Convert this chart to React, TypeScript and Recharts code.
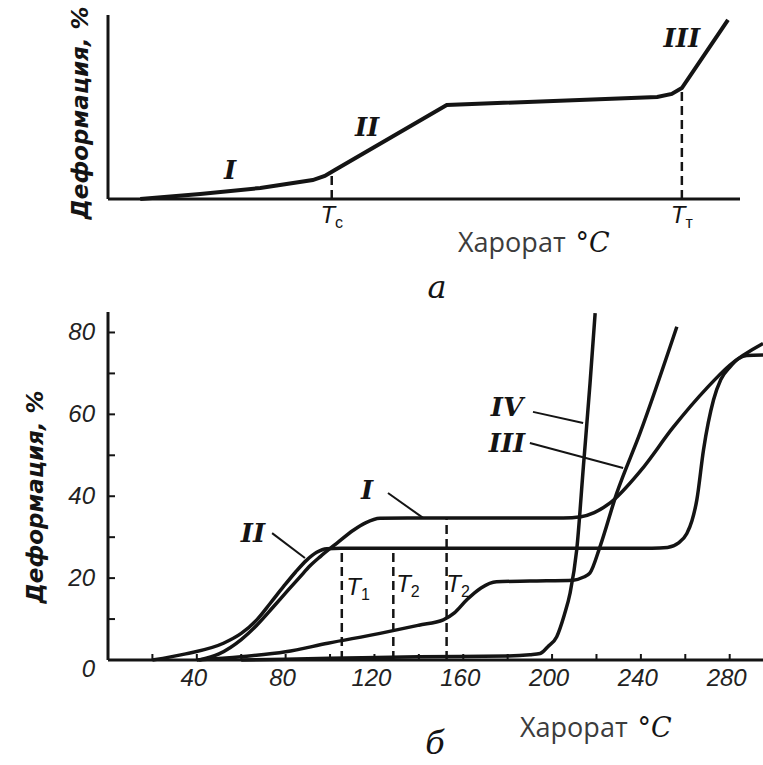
import { LineChart, Line, XAxis, YAxis, ReferenceLine, ReferenceDot, Label } from 'recharts';

const INK = '#141414';

// а — схема термомеханической кривой (условные единицы)
const schemeTemp = [5.1, 14.6, 24.1, 32.4, 34.3, 35.9, 53.6, 86.9, 89.2, 90.8, 98.1];
const schemeDef = [0, 2.7, 6, 10.3, 12.5, 15.8, 51.1, 55.4, 57.1, 60.3, 97.3];
const schemeMarks = [35.4, 90.8];
const schemeMarkTop = [14.8, 60.3];
const schemeMarkSub = ['c', 'т'];
const schemeNames = ['I', 'II', 'III'];
const schemeNameTemp = [19.3, 41, 90.8];
const schemeNameDef = [15.8, 39, 87.5];

// б — кривые I..IV
const temp1 = [41, 50, 60, 67, 74.5, 81, 86.5, 91, 95.5, 103, 110.5, 116, 122.5, 135, 170, 205, 213, 219, 226, 240, 254.5, 270, 280, 295];
const def1 = [0, 1.5, 5, 8.5, 13, 17, 20.3, 23, 25.2, 28.5, 31.7, 33.5, 34.6, 34.7, 34.7, 34.7, 35, 36, 38.3, 46.3, 56.8, 66.6, 72, 77.3];
const temp2 = [20, 35, 52, 60, 67, 73, 79, 84.5, 89.5, 94, 98.5, 105, 150, 200, 245, 252, 257, 260.7, 263, 265.2, 268.2, 272.7, 276, 280.2, 284, 287.7, 295];
const def2 = [0, 1.5, 4.1, 6.5, 9.8, 13.8, 17.9, 21.5, 24.4, 26.3, 27.2, 27.3, 27.3, 27.3, 27.3, 27.5, 28.6, 30.9, 34, 39.1, 51.3, 63.5, 68.5, 71.6, 73.6, 74.4, 74.5];
const temp3 = [40, 60, 80, 99, 122.5, 140, 151, 156, 161.6, 168, 175, 190, 209.6, 214, 217, 221.6, 229.1, 239.6, 256.2];
const def3 = [0, 0.8, 2, 4.1, 6.5, 8.5, 9.8, 11.5, 14.7, 17.6, 19.1, 19.3, 19.5, 20.2, 21.2, 27.7, 40.7, 55.4, 81.4];
const temp4 = [60, 100, 140, 180, 190, 194.6, 198, 202.1, 205.5, 208.1, 211.1, 214.1, 217.1, 219.4];
const def4 = [0, 0.4, 0.8, 1, 1.3, 1.6, 3.2, 5.7, 11, 16.3, 26.9, 47.2, 67.6, 84.7];

const xTicks = [20, 40, 60, 80, 100, 120, 140, 160, 180, 200, 220, 240, 260, 280];
const yTicks = [0, 10, 20, 30, 40, 50, 60, 70, 80];

const tMarks = [105.3, 128.5, 152.5];
const tMarkTop = [27.3, 27.3, 34.6];
const tSubs = ['1', '2', '2'];
const tLabelTemp = [112.6, 135.1, 157.7];
const tLabelDef = [15.9, 16.6, 16.6];

const curveNames = ['I', 'II', 'III', 'IV'];
const nameTemp = [116.7, 65.3, 179.7, 179.7];
const nameDef = [41.5, 31, 53, 61.8];
const leaderFrom = [[126.1, 40.8], [73.9, 31], [190, 53], [191.4, 60.6]];
const leaderTo = [[141.9, 34.7], [88.7, 24.9], [232, 46.9], [214, 57.9]];

const toPoints = (xs: number[], ys: number[]) => xs.map((t, i) => ({ t, d: ys[i] }));

const romanStyle = {
  fontFamily: '"DejaVu Serif", serif',
  fontStyle: 'italic' as const,
  fontWeight: 'bold' as const,
  fontSize: 26,
  fill: INK,
};

const tickFont = {
  fontFamily: '"Liberation Sans", sans-serif',
  fontStyle: 'italic' as const,
  fontSize: 24,
  fill: '#222',
};

// eslint-disable-next-line @typescript-eslint/no-explicit-any
function Roman({ cx, cy, text }: any) {
  return (
    <text x={cx} y={cy} textAnchor="middle" dominantBaseline="central" style={romanStyle}>
      {text}
    </text>
  );
}

// eslint-disable-next-line @typescript-eslint/no-explicit-any
function TSub({ cx, cy, sub }: any) {
  return (
    <text x={cx} y={cy + 8} textAnchor="middle" style={{ fontFamily: '"Liberation Sans", sans-serif', fontStyle: 'italic', fontSize: 24, fill: INK }}>
      T<tspan style={{ fontSize: 16, fontStyle: 'normal' }} dy={5}>{sub}</tspan>
    </text>
  );
}

// eslint-disable-next-line @typescript-eslint/no-explicit-any
function SchemeTick({ x, y, payload }: any) {
  const i = schemeMarks.indexOf(payload.value);
  return <TSub cx={x} cy={y + 16} sub={schemeMarkSub[i]} />;
}

// eslint-disable-next-line @typescript-eslint/no-explicit-any
function XTick({ x, y, payload }: any) {
  const v = payload.value;
  return (
    <g>
      <line x1={x} y1={y} x2={x} y2={y - 6} stroke={INK} strokeWidth={2} />
      {v % 40 === 0 && (
        <text x={x - 3} y={y + 26} textAnchor="middle" style={tickFont}>{v}</text>
      )}
    </g>
  );
}

// eslint-disable-next-line @typescript-eslint/no-explicit-any
function YTick({ x, y, payload }: any) {
  const v = payload.value;
  return (
    <g>
      <line x1={x} y1={y} x2={x + 7} y2={y} stroke={INK} strokeWidth={2} />
      {v % 20 === 0 && (
        <text x={x - 13} y={y + (v === 0 ? 17 : 8)} textAnchor="end" style={tickFont}>{v}</text>
      )}
    </g>
  );
}

function YTitle({ cx, cy }: { cx: number; cy: number }) {
  return (
    <text
      x={cx}
      y={cy}
      transform={`rotate(-90 ${cx} ${cy})`}
      textAnchor="middle"
      dominantBaseline="central"
      style={{ fontFamily: '"DejaVu Sans", sans-serif', fontStyle: 'italic', fontWeight: 'bold', fontSize: 23, fill: INK }}
    >
      Деформация, %
    </text>
  );
}

function XTitle({ x, y, letter, lx, ly }: { x: number; y: number; letter: string; lx: number; ly: number }) {
  return (
    <g>
      <text x={x} y={y} style={{ fontFamily: '"Open Sans", sans-serif', fontSize: 27, fill: '#3c3c3c' }}>
        Харорат
        <tspan dx={10} style={{ fontFamily: '"DejaVu Serif", serif', fontStyle: 'italic', fill: INK }}>°C</tspan>
      </text>
      <text x={lx} y={ly} textAnchor="middle" style={{ fontFamily: '"DejaVu Serif", serif', fontStyle: 'italic', fontSize: 32, fill: INK }}>
        {letter}
      </text>
    </g>
  );
}

const axisLine = { stroke: INK, strokeWidth: 3 };

export default function App() {
  const scheme = toPoints(schemeTemp, schemeDef);
  const curves = [
    toPoints(temp1, def1),
    toPoints(temp2, def2),
    toPoints(temp3, def3),
    toPoints(temp4, def4),
  ];

  return (
    <div style={{ position: 'absolute', left: 0, top: 0, width: 763, height: 765, background: '#fff' }}>
      <div style={{ position: 'absolute', left: 0, top: 0 }}>
        <LineChart width={763} height={310} margin={{ top: 15, right: 23, bottom: 81, left: 68 }}>
          <XAxis
            type="number"
            dataKey="t"
            domain={[0, 100]}
            ticks={schemeMarks}
            tickSize={0}
            tickMargin={0}
            tickLine={false}
            axisLine={axisLine}
            height={30}
            tick={SchemeTick}
          >
            <Label content={() => <XTitle x={458} y={252} letter="а" lx={437} ly={298} />} />
          </XAxis>
          <YAxis type="number" domain={[0, 100]} width={40} tick={false} tickLine={false} axisLine={axisLine}>
            <Label content={() => <YTitle cx={80} cy={113} />} />
          </YAxis>
          {schemeMarks.map((t, i) => (
            <ReferenceLine
              key={`m${i}`}
              segment={[{ x: t, y: 0 }, { x: t, y: schemeMarkTop[i] }]}
              stroke={INK}
              strokeWidth={2.5}
              strokeDasharray="9 5"
            />
          ))}
          <Line data={scheme} dataKey="d" type="linear" stroke={INK} strokeWidth={4} dot={false} isAnimationActive={false} />
          {schemeNames.map((n, i) => (
            <ReferenceDot
              key={n}
              x={schemeNameTemp[i]}
              y={schemeNameDef[i]}
              r={0}
              shape={(p: any) => <Roman cx={p.cx} cy={p.cy} text={n} />}
            />
          ))}
        </LineChart>
      </div>

      <div style={{ position: 'absolute', left: 0, top: 290 }}>
        <LineChart width={763} height={475} margin={{ top: 22, right: 0, bottom: 75, left: 68 }}>
          <XAxis
            type="number"
            dataKey="t"
            domain={[0, 295]}
            ticks={xTicks}
            tickSize={0}
            tickMargin={0}
            tickLine={false}
            axisLine={axisLine}
            height={30}
            tick={XTick}
          >
            <Label content={() => <XTitle x={520} y={447} letter="б" lx={435} ly={464} />} />
          </XAxis>
          <YAxis
            type="number"
            domain={[0, 85]}
            ticks={yTicks}
            width={40}
            tickSize={0}
            tickMargin={0}
            tickLine={false}
            axisLine={axisLine}
            tick={YTick}
          >
            <Label content={() => <YTitle cx={35} cy={207} />} />
          </YAxis>
          {tMarks.map((t, i) => (
            <ReferenceLine
              key={`t${i}`}
              segment={[{ x: t, y: 0 }, { x: t, y: tMarkTop[i] }]}
              stroke={INK}
              strokeWidth={2.5}
              strokeDasharray="9 5"
            />
          ))}
          {leaderFrom.map((f, i) => (
            <ReferenceLine
              key={`l${i}`}
              segment={[{ x: f[0], y: f[1] }, { x: leaderTo[i][0], y: leaderTo[i][1] }]}
              stroke={INK}
              strokeWidth={2}
            />
          ))}
          {curves.map((c, i) => (
            <Line
              key={curveNames[i]}
              data={c}
              dataKey="d"
              type="monotone"
              stroke={INK}
              strokeWidth={3.5}
              dot={false}
              isAnimationActive={false}
            />
          ))}
          {curveNames.map((n, i) => (
            <ReferenceDot
              key={`n${n}`}
              x={nameTemp[i]}
              y={nameDef[i]}
              r={0}
              shape={(p: any) => <Roman cx={p.cx} cy={p.cy} text={n} />}
            />
          ))}
          {tSubs.map((s, i) => (
            <ReferenceDot
              key={`s${i}`}
              x={tLabelTemp[i]}
              y={tLabelDef[i]}
              r={0}
              shape={(p: any) => <TSub cx={p.cx} cy={p.cy - 8} sub={s} />}
            />
          ))}
        </LineChart>
      </div>
    </div>
  );
}
